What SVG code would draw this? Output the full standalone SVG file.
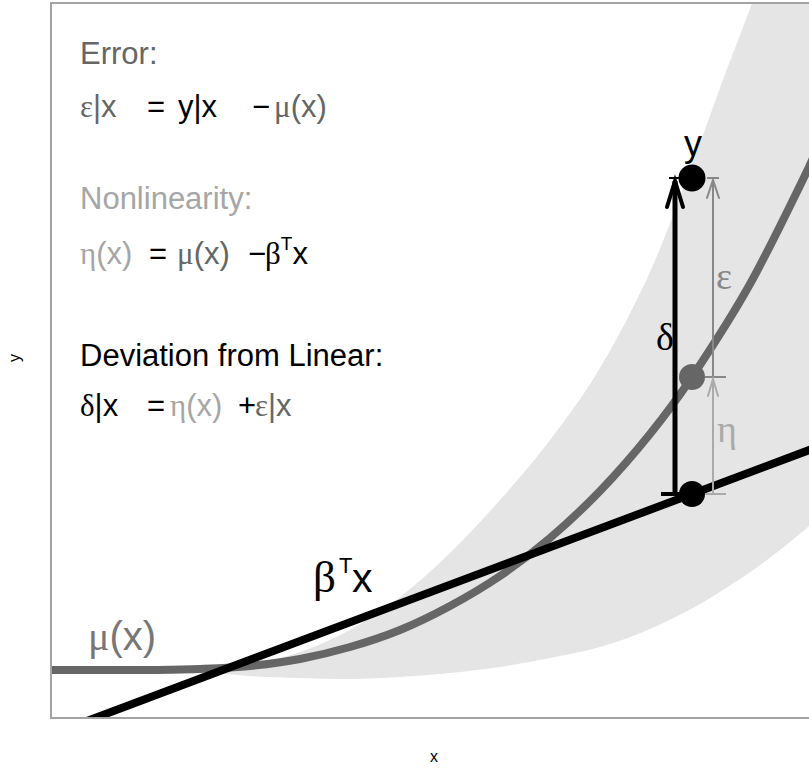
<svg xmlns="http://www.w3.org/2000/svg" width="809" height="771" viewBox="0 0 809 771">
<style>
text{font-family:"Liberation Sans",Arial,sans-serif;}
.gk{font-family:"Liberation Serif","DejaVu Serif",serif;}
.eq{font-size:31px;}
.c-err{fill:#666666;}
.c-non{fill:#a6a6a6;}
.shaft{fill:none;stroke-linecap:butt;}
.head{fill:none;stroke-linejoin:miter;stroke-linecap:round;}
</style>
<defs>
<clipPath id="panel"><rect x="51" y="3" width="770" height="715"/></clipPath>
</defs>
<rect width="809" height="771" fill="#ffffff"/>
<g id="plot" clip-path="url(#panel)">
<path id="band" fill="#e5e5e5" d="M190,670 C200,669 231.7,667 250,664 C268.3,661 283.3,657.7 300,652 C316.7,646.3 333.3,639.2 350,630 C366.7,620.8 383.3,609.8 400,597 C416.7,584.2 433.3,569.2 450,553 C466.7,536.8 483.3,518.8 500,500 C516.7,481.2 533.3,462 550,440 C566.7,418 583.3,396 600,368 C616.7,340 634.7,305.8 650,272 C665.3,238.2 680.3,195.7 692,165 C703.7,134.3 710,115 720,88 C730,61 743.7,26 752,3 L830,-10 L830,507 L809,526 C802.3,531.8 797,536.3 790,542 C783,547.7 775.3,553.8 767,560 C758.7,566.2 751.2,571.7 740,579 C728.8,586.3 715,595.7 700,604 C685,612.3 666.7,621.8 650,629 C633.3,636.2 616.7,642.2 600,647 C583.3,651.8 566.7,654.7 550,658 C533.3,661.3 516.7,664.5 500,667 C483.3,669.5 466.7,671.3 450,673 C433.3,674.7 416.7,676 400,677 C383.3,678 366.7,678.8 350,679 C333.3,679.2 316.7,678.5 300,678 C283.3,677.5 268.3,677.3 250,676 C231.7,674.7 200,671 190,670 Z"/>
<path id="mu-curve" fill="none" stroke="#666666" stroke-width="8" stroke-linejoin="round" d="M40,670 L150,670 C166.7,669.8 183.3,669.7 200,669 C216.7,668.3 233.3,667.7 250,666 C266.7,664.3 283.3,662.2 300,659 C316.7,655.8 333.3,651.8 350,647 C366.7,642.2 383.3,636.8 400,630 C416.7,623.2 433.3,615 450,606 C466.7,597 483.3,587.3 500,576 C516.7,564.7 533.3,552.2 550,538 C566.7,523.8 583.3,508.3 600,491 C616.7,473.7 634.7,453 650,434 C665.3,415 675.3,402 692,377 C708.7,352 730.5,319 750,284 C769.5,249 795.7,194.3 809,167 L830,120"/>
<path id="linear-fit" fill="none" stroke="#000000" stroke-width="8" d="M80,723.6 L820,446"/>
</g>
<rect id="panel-border" x="51" y="3" width="800" height="715" fill="none" stroke="#a3a3a3" stroke-width="2"/>
<g id="connectors">
<g id="delta-arrow" stroke="#000000">
<line class="shaft" x1="675" y1="494" x2="675" y2="181" stroke-width="5"/>
<polyline class="head" points="667,207 675,181 683,207" stroke-width="4"/>
<line x1="669" y1="178" x2="681" y2="178" stroke-width="2"/>
<line x1="661" y1="494" x2="690" y2="494" stroke-width="4"/>
</g>
<g id="eps-arrow" stroke="#888888" stroke-width="2">
<line class="shaft" x1="713" y1="377" x2="713" y2="180"/>
<polyline class="head" points="707,198 713,180 719,198"/>
<line x1="707" y1="178" x2="719" y2="178"/>
<line x1="705" y1="377" x2="726" y2="377"/>
</g>
<g id="eta-arrow" stroke="#aaaaaa" stroke-width="2">
<line class="shaft" x1="713" y1="494" x2="713" y2="379"/>
<polyline class="head" points="708,396 713,379 718,396"/>
<line x1="705" y1="494" x2="726" y2="494"/>
</g>
</g>
<g id="node-y">
<circle cx="692" cy="178" r="13.5" fill="#000000"/>
<text x="693" y="156" font-size="36" text-anchor="middle">y</text>
</g>
<g id="node-mu">
<circle cx="692" cy="377" r="13" fill="#666666"/>
</g>
<g id="node-linear">
<circle cx="692" cy="494" r="13" fill="#000000"/>
</g>
<g id="arrow-labels">
<text class="gk" x="665" y="350" font-size="38" text-anchor="middle">δ</text>
<text class="gk" x="724" y="289" font-size="38" text-anchor="middle" fill="#888888">ε</text>
<text class="gk" x="727" y="442" font-size="38" text-anchor="middle" fill="#aaaaaa">η</text>
</g>
<g id="curve-labels">
<text y="592" font-size="41"><tspan x="313" class="gk" font-size="45">β</tspan><tspan x="339" font-size="22" dy="-19">T</tspan><tspan x="352" dy="19">x</tspan></text>
<text x="88" y="650" font-size="40" fill="#777777"><tspan class="gk">μ</tspan>(x)</text>
</g>
<g id="legend-text" class="eq">
<text x="80" y="64" class="c-err">Error:</text>
<text y="117"><tspan x="80" class="c-err"><tspan class="gk">ε</tspan>|x</tspan><tspan x="147">=</tspan><tspan x="178">y|x</tspan><tspan x="252">−</tspan><tspan x="274" class="c-err"><tspan class="gk">μ</tspan>(x)</tspan></text>
<text x="80" y="209" class="c-non">Nonlinearity:</text>
<text y="264"><tspan x="80" class="c-non"><tspan class="gk">η</tspan>(x)</tspan><tspan x="149">=</tspan><tspan x="177" class="c-err"><tspan class="gk">μ</tspan>(x)</tspan><tspan x="248">−</tspan><tspan x="265" class="gk">β</tspan><tspan font-size="19" dy="-14">T</tspan><tspan dy="14">x</tspan></text>
<text x="80" y="366">Deviation from Linear:</text>
<text y="416"><tspan x="80"><tspan class="gk">δ</tspan>|x</tspan><tspan x="147">=</tspan><tspan x="170" class="c-non"><tspan class="gk">η</tspan>(x)</tspan><tspan x="238">+</tspan><tspan x="255" class="c-err"><tspan class="gk">ε</tspan>|x</tspan></text>
</g>
<g id="axes-labels">
<text x="434" y="762" font-size="16" text-anchor="middle">x</text>
<text x="0" y="0" font-size="16" text-anchor="middle" transform="translate(20,358) rotate(-90)">y</text>
</g>
</svg>
